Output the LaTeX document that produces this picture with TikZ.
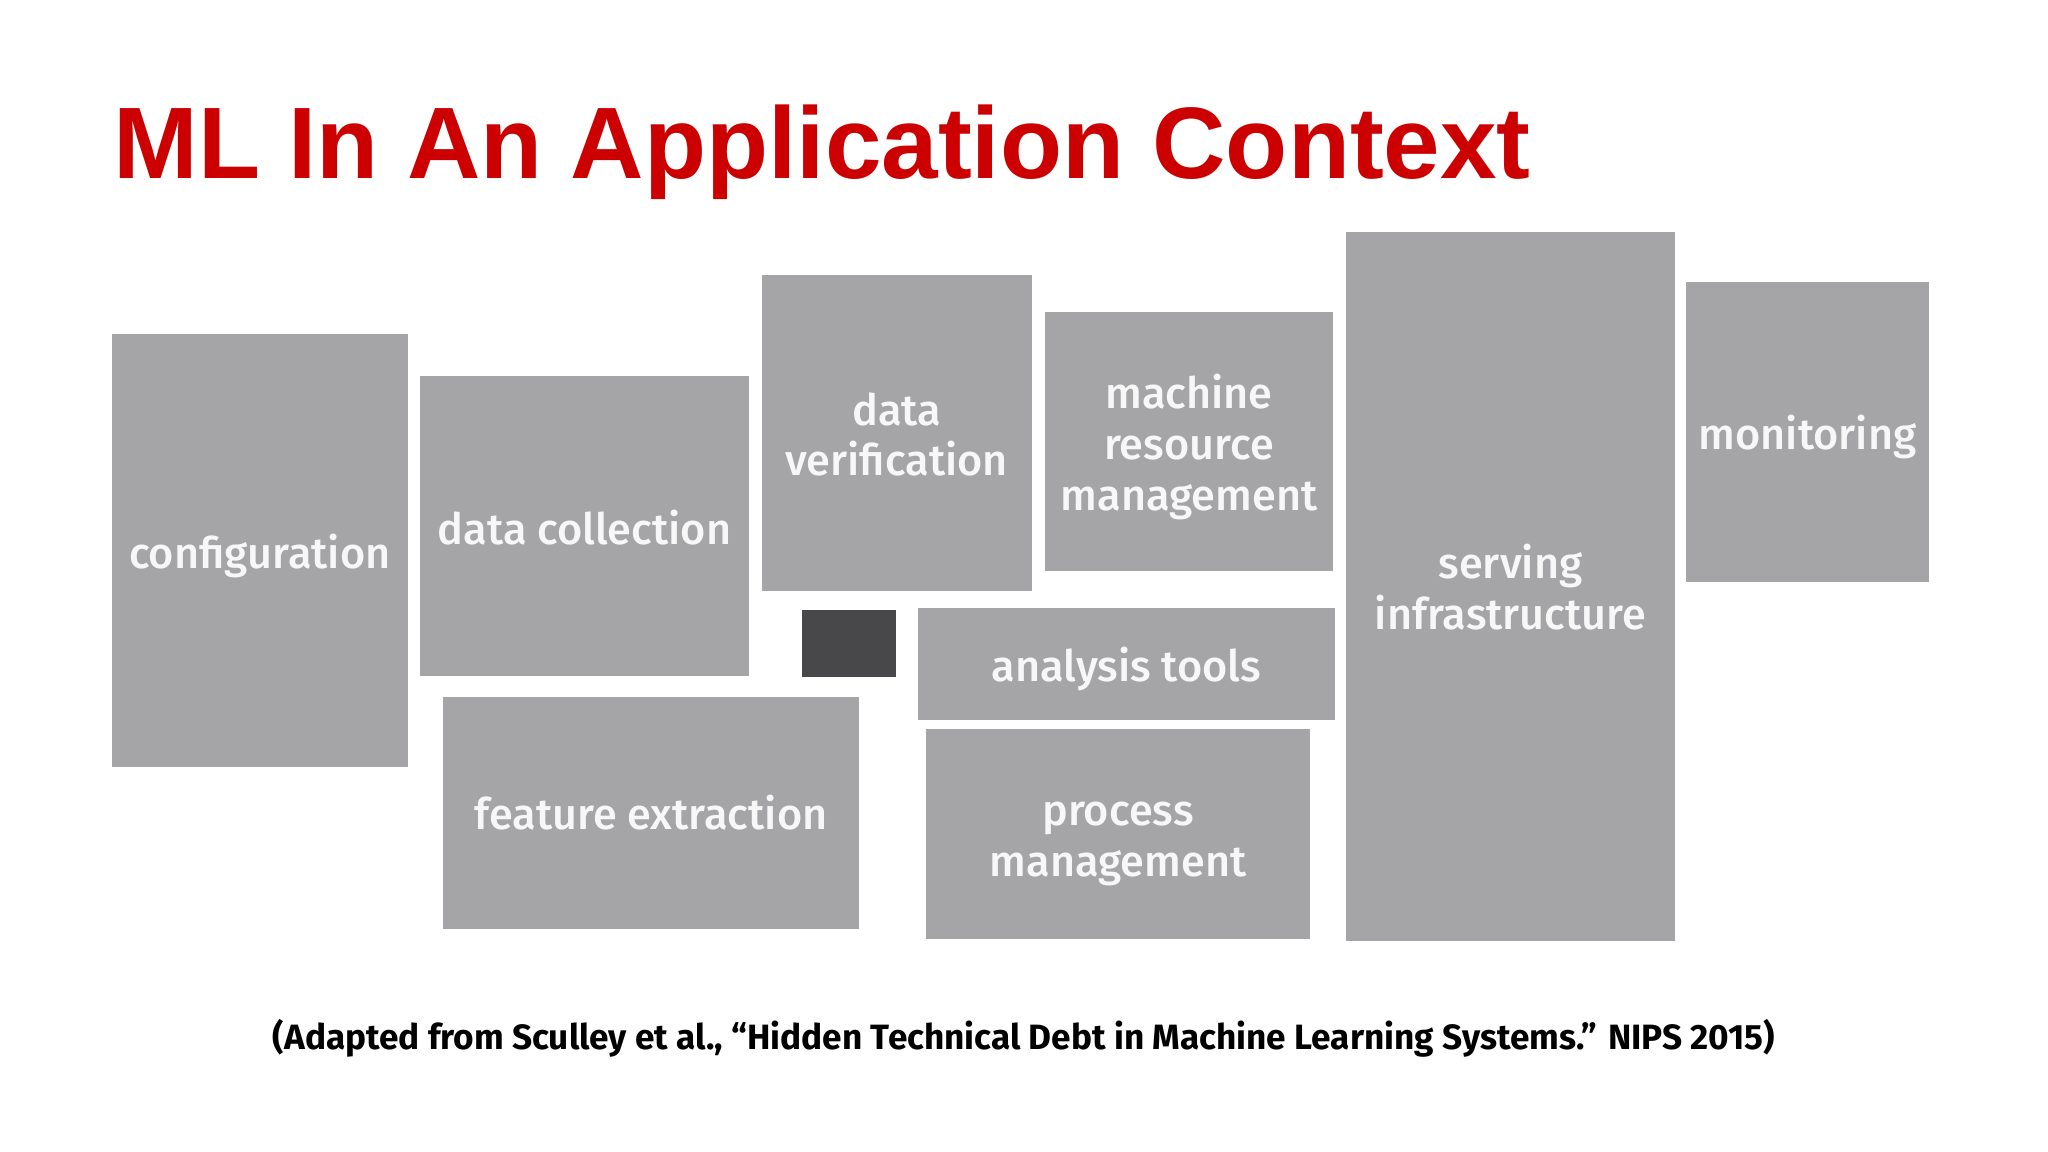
\documentclass[tikz,border=0pt]{standalone}
\usepackage{fontspec}
\setmainfont{Liberation Sans}
\newfontfamily\boxfont{Fira Sans}[UprightFont={* Medium},BoldFont={* Bold}]
\definecolor{boxgray}{HTML}{A5A4A7}
\definecolor{darkbox}{HTML}{48474A}
\definecolor{titlered}{HTML}{CC0000}
\definecolor{labelwhite}{HTML}{F7F7F7}
\begin{document}
\begin{tikzpicture}[x=0.01cm,y=-0.01cm,
  box/.style={fill=boxgray,draw=none,inner sep=0pt},
  lbl/.style={inner sep=0pt,align=center,text=labelwhite,
    font=\boxfont\fontsize{12.3}{14.5}\selectfont},
  dbox/.style={fill=darkbox,draw=none,inner sep=0pt}]
\useasboundingbox (0,0) rectangle (2048,1152);
\fill[white] (0,0) rectangle (2048,1152);
\node[anchor=base west,text=titlered,inner sep=0pt,font=\bfseries\fontsize{28.9}{31}\selectfont] (title) at (113,179) {ML In An Application Context};
\node[box,minimum width=2.955cm,minimum height=4.33cm] (config) at (259.75,550.5) {};
\node[lbl] (configL) at (259.75,556) {configuration};
\node[box,minimum width=3.28cm,minimum height=3.0cm] (collect) at (584.5,526) {};
\node[lbl] (collectL) at (584.5,527.5) {data collection};
\node[box,minimum width=2.70cm,minimum height=3.15cm] (verify) at (896.6,433) {};
\node[lbl] (verifyL) at (896.6,434.5) {data\\verification};
\node[box,minimum width=2.886cm,minimum height=2.59cm] (machine) at (1189,441.4) {};
\node[lbl] (machineL) at (1189,446.5) {machine\\resource\\management};
\node[box,minimum width=3.28cm,minimum height=7.08cm] (serving) at (1510.5,586.5) {};
\node[lbl] (servingL) at (1510.5,587.5) {serving\\infrastructure};
\node[box,minimum width=2.43cm,minimum height=3.0cm] (monitor) at (1807.5,432) {};
\node[lbl] (monitorL) at (1807.5,437) {monitoring};
\node[dbox,minimum width=0.94cm,minimum height=0.665cm] (ml) at (849,643.3) {};
\node[box,minimum width=4.17cm,minimum height=1.11cm] (analysis) at (1126.4,664) {};
\node[lbl] (analysisL) at (1126.4,669) {analysis tools};
\node[box,minimum width=4.166cm,minimum height=2.31cm] (feature) at (651,813) {};
\node[lbl] (featureL) at (651,813) {feature extraction};
\node[box,minimum width=3.84cm,minimum height=2.10cm] (process) at (1118,834) {};
\node[lbl] (processL) at (1118,844) {process\\management};
\node[anchor=base,inner sep=0pt,font=\boxfont\bfseries\fontsize{10}{12}\selectfont] (cite) at (1024,1049) {(Adapted from Sculley et al., “Hidden Technical Debt in Machine Learning Systems.” NIPS 2015)};
\end{tikzpicture}
\end{document}
